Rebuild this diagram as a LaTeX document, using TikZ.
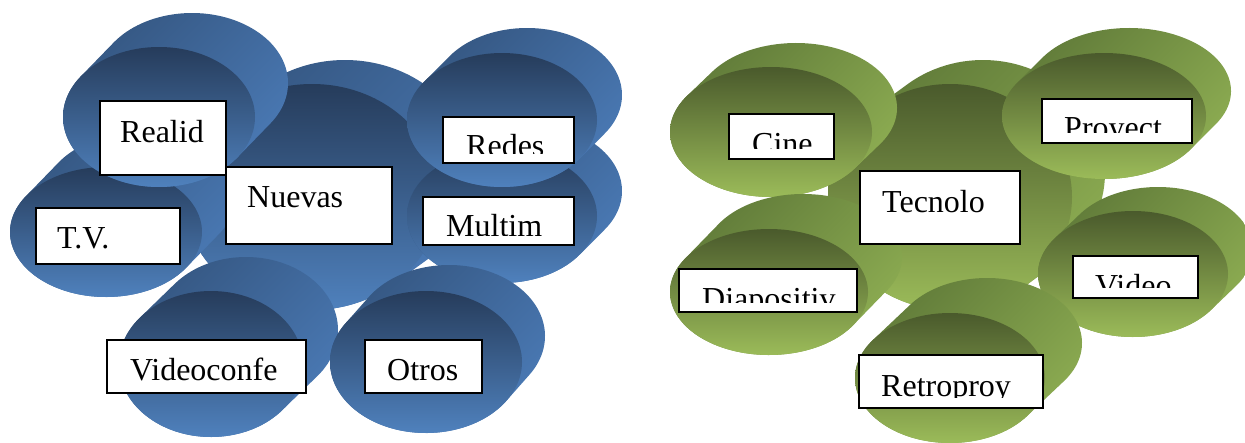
\documentclass[tikz,border=0pt]{standalone}
\usepackage{fontspec}
\setmainfont{Liberation Serif}
\definecolor{bfTop}{HTML}{263C5B}
\definecolor{bfBot}{HTML}{4F81BD}
\definecolor{bsA}{HTML}{34557F}
\definecolor{bsB}{HTML}{4B7BB7}
\definecolor{gfTop}{HTML}{4A5A2C}
\definecolor{gfBot}{HTML}{9BBB59}
\definecolor{gsA}{HTML}{5E7838}
\definecolor{gsB}{HTML}{8FAF53}
\tikzset{
  bside/.style={top color=bsA, bottom color=bsB, shading angle=45},
  bfront/.style={top color=bfTop, bottom color=bfBot},
  gside/.style={top color=gsA, bottom color=gsB, shading angle=45},
  gfront/.style={top color=gfTop, bottom color=gfBot},
  lblbox/.style={draw=black, fill=white, line width=2.6pt},
  lbltext/.style={anchor=base west, inner sep=0pt, font=\fontsize{32}{38}\selectfont}
}
% extruded ellipse: cx, cy (pixels, y down), a, b, dx, dy (up), style prefix
\newcommand\extell[7]{%
  \pgfmathsetmacro\eCx{#1}%
  \pgfmathsetmacro\eCy{-(#2)}%
  \pgfmathsetmacro\eTh{atan((#4)*(#5)/((#3)*(#6)))}%
  \pgfmathsetmacro\eSa{180-\eTh}%
  \pgfmathsetmacro\eEa{360-\eTh}%
  \pgfmathsetmacro\eNa{-\eTh}%
  \pgfmathsetmacro\ePx{\eCx+(#3)*cos(\eSa)}%
  \pgfmathsetmacro\ePy{\eCy+(#4)*sin(\eSa)}%
  \path[#7side] (\ePx pt,\ePy pt) arc[start angle=\eSa,end angle=\eEa,x radius=#3pt,y radius=#4pt]
     -- ++(#5pt,#6pt) arc[start angle=\eNa,end angle=\eSa,x radius=#3pt,y radius=#4pt] -- cycle;
  \path[#7front] (\eCx pt,\eCy pt) ellipse[x radius=#3pt,y radius=#4pt];
}
% label: name, x1, y1, x2, y2, text x, baseline y, clip y, text
\newcommand\lbl[9]{%
  \path[lblbox] (#2,#3) rectangle (#4,#5);
  \begin{scope}
    \clip (#2,#3) rectangle (#4,#8);
    \node[lbltext] (#1) at (#6,#7) {#9};
  \end{scope}
}
\begin{document}
\begin{tikzpicture}[x=1pt,y=-1pt]
\useasboundingbox (0,0) rectangle (1245,442);
% blue group
\extell{312}{197}{128}{113}{33}{24}{b}
\extell{106}{232}{96}{65}{33}{34}{b}
\extell{159}{117}{96}{70}{33}{34}{b}
\extell{502}{216}{95}{67}{25}{25}{b}
\extell{502}{120}{95}{67}{25}{25}{b}
\extell{211}{364}{92}{73}{35}{34}{b}
\extell{426}{362}{96}{71}{23}{26}{b}
% green group
\extell{950}{197}{122}{113}{33}{24}{g}
\extell{771}{132}{101}{65}{25}{24}{g}
\extell{1104}{116}{102}{63}{25}{25}{g}
\extell{1133}{274}{95}{63}{25}{24}{g}
\extell{769}{292}{99}{63}{34}{35}{g}
\extell{950}{378}{95}{65}{37}{35}{g}
% labels
\lbl{realid}{100}{101}{226}{175}{120}{142}{175}{Realid}
\lbl{tv}{36}{208}{180}{264}{57}{248}{264}{T.V.}
\lbl{nuevas}{226}{167}{392}{244}{247}{207}{244}{Nuevas}
\lbl{redes}{443}{117}{574}{163}{466}{156}{153}{Redes}
\lbl{multim}{423}{197}{574}{245}{446}{236}{235}{Multim}
\lbl{videoconfe}{107}{340}{306}{393}{130}{380}{393}{Videoconfe}
\lbl{otros}{365}{340}{482}{393}{387}{380}{393}{Otros}
\lbl{cine}{729}{114}{834}{159}{752}{154}{148}{Cine}
\lbl{proyect}{1042}{99}{1192}{143}{1064}{138}{132}{Proyect}
\lbl{tecnolo}{860}{171}{1020}{244}{882}{212}{244}{Tecnolo}
\lbl{video}{1073}{256}{1198}{298}{1095}{296}{287}{Video}
\lbl{diapositiv}{679}{269}{857}{312}{702}{309}{302}{Diapositiv}
\lbl{retroproy}{859}{355}{1043}{408}{881}{396}{397}{Retroproy}
\end{tikzpicture}
\end{document}
